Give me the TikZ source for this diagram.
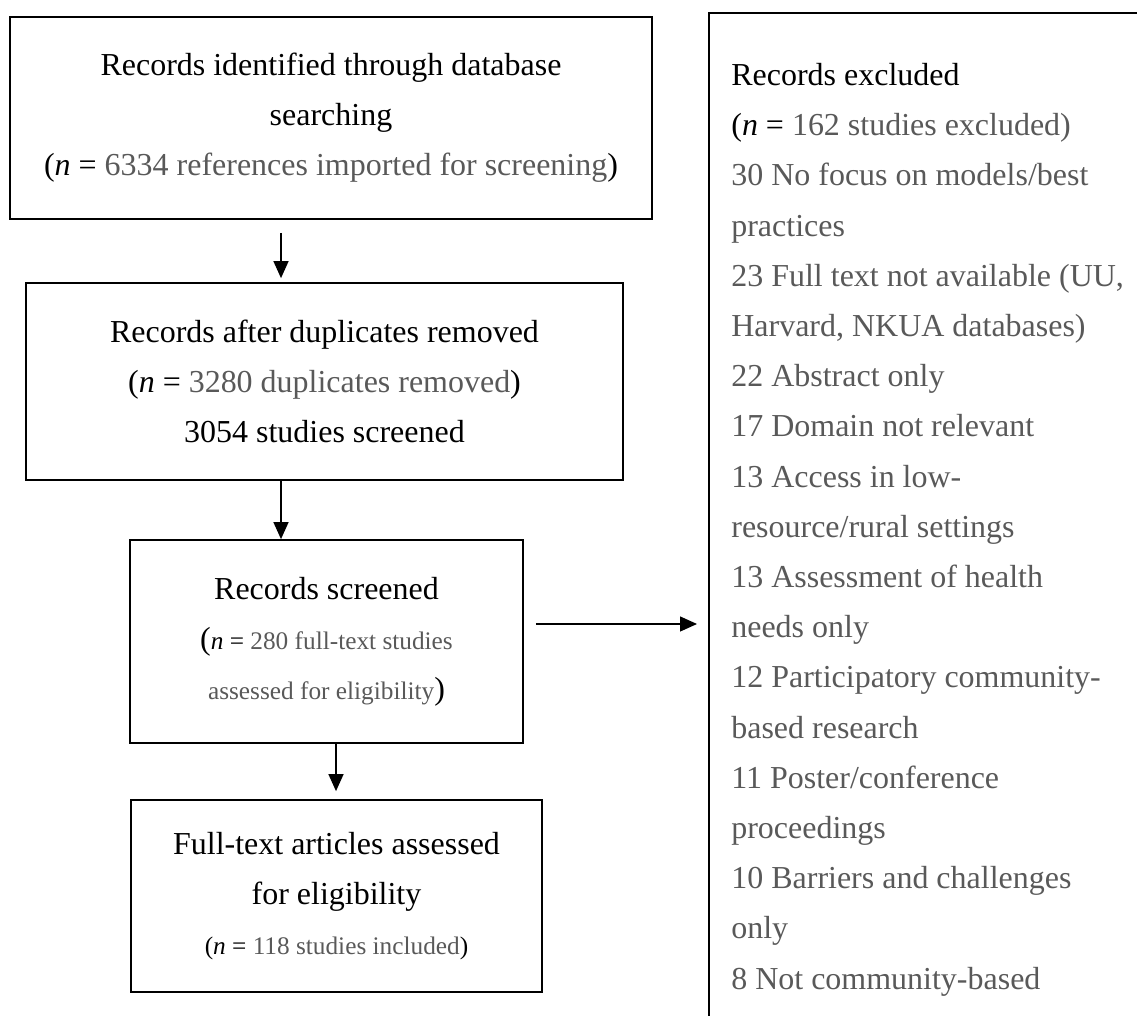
\documentclass[tikz,border=0pt]{standalone}
\usepackage{fontspec}
\setmainfont{Liberation Serif}
\usepackage{xcolor}
\usepackage{tikz}
\usetikzlibrary{arrows.meta}

\colorlet{numgray}{black!65}
\newcommand{\bigtxt}{\fontsize{18.2}{28.45}\selectfont}
\newcommand{\smalltxt}{\fontsize{14.4}{28.45}\selectfont}
\newcommand{\dat}[1]{\textcolor{numgray}{#1}}

\begin{document}
\begin{tikzpicture}[x=0.02cm, y=-0.02cm,
  box/.style={draw=black, line width=1pt, align=center, font=\bigtxt, inner sep=0pt},
  arr/.style={black, line width=0.75pt, -{Triangle[length=0.34cm, width=0.3cm]}}]
\useasboundingbox (0,0) rectangle (1137,1016);
\clip (0,0) rectangle (1137,1016);

\node [box, minimum width=12.84cm, minimum height=4.04cm] (ident) at (331,118)
  {Records identified through database\\ searching\\
   (\textit{n} = \dat{6334 references imported for screening})};
\node [box, minimum width=11.94cm, minimum height=3.94cm] (dupl) at (324.5,381.5)
  {Records after duplicates removed\\
   (\textit{n} = \dat{3280 duplicates removed})\\ 3054 studies screened};
\node [box, minimum width=7.86cm, minimum height=4.06cm] (scr) at (326.5,641.5)
  {Records screened\\
   ({\smalltxt\textit{n} = \dat{280 full-text studies}}\\
   {\smalltxt\dat{assessed for eligibility}})};
\node [box, minimum width=8.22cm, minimum height=3.84cm] (full) at (336.5,896)
  {Full-text articles assessed\\ for eligibility\\
   {\smalltxt(\textit{n} = \dat{118 studies included})}};

\node [box, anchor=north west, minimum width=12cm, minimum height=21cm] (excl) at (708,12) {};
\node [anchor=north west, inner sep=0pt, align=left, font=\fontsize{18.2}{28.57}\selectfont] (excltxt) at (731,63)
  {Records excluded\\
   (\textit{n} = \dat{162 studies excluded)}\\
   \dat{30 No focus on models/best}\\ \dat{practices}\\
   \dat{23 Full text not available (UU,}\\ \dat{Harvard, NKUA databases)}\\
   \dat{22 Abstract only}\\ \dat{17 Domain not relevant}\\
   \dat{13 Access in low-}\\ \dat{resource/rural settings}\\
   \dat{13 Assessment of health}\\ \dat{needs only}\\
   \dat{12 Participatory community-}\\ \dat{based research}\\
   \dat{11 Poster/conference}\\ \dat{proceedings}\\
   \dat{10 Barriers and challenges}\\ \dat{only}\\
   \dat{8 Not community-based}};

\coordinate (colA) at (281,0);
\coordinate (colB) at (336,0);
\coordinate (rowH) at (0,624);
\draw [arr, shorten <=0.26cm, shorten >=0.08cm] (ident.south -| colA) -- (dupl.north -| colA);
\draw [arr] (dupl.south -| colA) -- (scr.north -| colA);
\draw [arr, shorten >=0.16cm] (scr.south -| colB) -- (full.north -| colB);
\draw [arr, shorten <=0.24cm, shorten >=0.22cm] (scr.east |- rowH) -- (excl.west |- rowH);
\end{tikzpicture}
\end{document}
